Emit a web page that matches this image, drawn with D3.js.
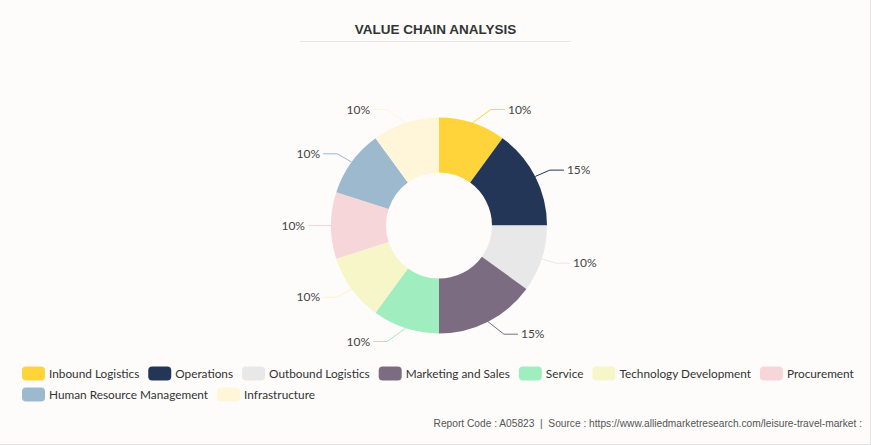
<!DOCTYPE html>
<html>
<head>
<meta charset="utf-8">
<script src="https://cdn.jsdelivr.net/npm/d3@7"></script>
<style>
  html, body { margin: 0; padding: 0; background: #fdfcfb; }
  svg { display: block; }
</style>
</head>
<body>
<svg id="chart" width="871" height="445"></svg>
<script>
const categories = ["Inbound Logistics", "Operations", "Outbound Logistics", "Marketing and Sales", "Service", "Technology Development", "Procurement", "Human Resource Management", "Infrastructure"];
const values = [10, 15, 10, 15, 10, 10, 10, 10, 10];
const colors = ["#ffd43b", "#243657", "#e8e8e8", "#7c6c82", "#a0eec0", "#f7f6c8", "#f7d6d9", "#9db9cd", "#fff6d9"];
const titleText = "VALUE CHAIN ANALYSIS";
const footerText = "Report Code : A05823  |  Source : https://www.alliedmarketresearch.com/leisure-travel-market :";

const W = 871, H = 445;
const svg = d3.select("#chart");

svg.append("rect").attr("width", W).attr("height", H).attr("fill", "#fdfcfb");
svg.append("line").attr("x1", W - 0.5).attr("x2", W - 0.5).attr("y1", 0).attr("y2", H).attr("stroke", "#e4e4e4");
svg.append("line").attr("x1", 0).attr("x2", W).attr("y1", H - 0.5).attr("y2", H - 0.5).attr("stroke", "#e4e4e4");

// Title
svg.append("text")
  .attr("x", 435.5).attr("y", 34)
  .attr("text-anchor", "middle")
  .attr("font-family", "'Liberation Sans', Arial, sans-serif")
  .attr("font-weight", "bold")
  .attr("font-size", 13.5)
  .attr("fill", "#333")
  .text(titleText);
svg.append("line")
  .attr("x1", 300).attr("x2", 571).attr("y1", 41.5).attr("y2", 41.5)
  .attr("stroke", "#e6e6e6").attr("stroke-width", 1);

// Donut
const cx = 439, cy = 225.5, R = 108, r0 = 53;
const pie = d3.pie().sort(null).value(d => d)(values);
const arc = d3.arc().innerRadius(r0).outerRadius(R);
const g = svg.append("g").attr("transform", `translate(${cx},${cy})`);
g.selectAll("path").data(pie).join("path")
  .attr("d", arc)
  .attr("fill", (d, i) => colors[i]);

const total = d3.sum(values);
const rA = R + 15, rB = R + 20, len2 = 14, gap = 3;
pie.forEach((d, i) => {
  const a = (d.startAngle + d.endAngle) / 2;
  const sx = Math.sin(a), sy = -Math.cos(a);
  const dir = sx < -1e-6 ? -1 : 1;
  const p0 = [R * sx, R * sy];
  const by = (R + 14) * sy;
  const bx = dir * Math.min(rA * Math.sqrt(Math.max(0, 1 - (by * by) / (rB * rB))), R + 9);
  const p1 = [bx, by];
  const p2 = [bx + dir * len2, by];
  g.append("polyline")
    .attr("points", [p0, p1, p2].map(p => p.join(",")).join(" "))
    .attr("fill", "none")
    .attr("stroke", colors[i])
    .attr("stroke-width", 1);
  g.append("text")
    .attr("x", p2[0] + dir * gap)
    .attr("y", by)
    .attr("dy", "0.35em")
    .attr("text-anchor", dir < 0 ? "end" : "start")
    .attr("font-family", "Lato, 'Open Sans', sans-serif")
    .attr("font-size", 12)
    .attr("fill", "#444")
    .text(Math.round(values[i] / total * 100) + "%");
});

// Legend
const legend = svg.append("g");
const swW = 23, swH = 14, swPad = 4, itemGap = 9, rowH = 21;
let lx = 22, ly = 373.5;
categories.forEach((c, i) => {
  const item = legend.append("g");
  const t = item.append("text")
    .attr("font-family", "Lato, 'Open Sans', sans-serif")
    .attr("font-size", 11.8)
    .attr("fill", "#333")
    .attr("dy", "0.35em")
    .text(c);
  const tw = t.node().getComputedTextLength();
  const w = swW + swPad + tw;
  if (lx + w > W - 8) { lx = 22; ly += rowH; }
  item.attr("transform", `translate(${lx},${ly})`);
  item.insert("rect", "text")
    .attr("x", 0).attr("y", -swH / 2)
    .attr("width", swW).attr("height", swH)
    .attr("rx", 4).attr("ry", 4)
    .attr("fill", colors[i]);
  t.attr("x", swW + swPad);
  lx += w + itemGap;
});

// Footer
svg.append("text")
  .attr("x", 862).attr("y", 427)
  .attr("text-anchor", "end")
  .attr("font-family", "'Liberation Sans', Arial, sans-serif")
  .attr("font-size", 10.2)
  .attr("fill", "#555")
  .attr("xml:space", "preserve")
  .style("white-space", "pre")
  .text(footerText);
</script>
</body>
</html>
